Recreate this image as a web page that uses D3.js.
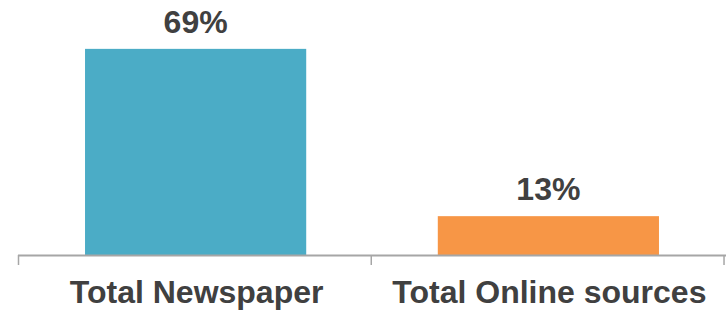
<!DOCTYPE html>
<html>
<head>
<meta charset="utf-8">
<script src="https://cdn.jsdelivr.net/npm/d3@7"></script>
<style>
  body { margin: 0; background: #fff; }
  svg { display: block; font-family: "Liberation Sans", Arial, sans-serif; }
</style>
</head>
<body>
<div id="chart"></div>
<script>
var categories = ["Total Newspaper", "Total Online sources"];
var values = [69, 13];
var colors = ["#4bacc6", "#f79646"];

var width = 726, height = 311;
var baseline = 255;

var svg = d3.select("#chart").append("svg")
    .attr("width", width)
    .attr("height", height);

// bands span the whole axis, bars sit in the middle of each
var x = d3.scaleBand()
    .domain(categories)
    .range([18, 726])
    .paddingInner(0.373)
    .paddingOuter(0.19);

var y = d3.scaleLinear()
    .domain([0, 80])
    .range([baseline, 16]);

svg.selectAll("rect.bar")
    .data(values)
    .enter().append("rect")
    .attr("class", "bar")
    .attr("x", function(d, i) { return x(categories[i]); })
    .attr("y", function(d) { return y(d); })
    .attr("width", x.bandwidth())
    .attr("height", function(d) { return baseline - y(d); })
    .attr("fill", function(d, i) { return colors[i]; });

// value labels
svg.selectAll("text.value")
    .data(values)
    .enter().append("text")
    .attr("class", "value")
    .attr("x", function(d, i) { return x(categories[i]) + x.bandwidth() / 2; })
    .attr("y", function(d) { return y(d) - 16; })
    .attr("text-anchor", "middle")
    .attr("font-size", 32)
    .attr("font-weight", "bold")
    .attr("fill", "#404040")
    .text(function(d) { return d + "%"; });

// axis line + tick marks at band boundaries
var step = x.step();
var edges = d3.range(0, categories.length + 1).map(function(i) { return 18 + i * step; });

svg.append("line")
    .attr("x1", 18).attr("x2", 726)
    .attr("y1", baseline + 0.5).attr("y2", baseline + 0.5)
    .attr("stroke", "#a6a6a6")
    .attr("stroke-width", 2);

svg.selectAll("line.tick")
    .data(edges)
    .enter().append("line")
    .attr("class", "tick")
    .attr("x1", function(d) { return Math.min(d, 725) + 0.5; })
    .attr("x2", function(d) { return Math.min(d, 725) + 0.5; })
    .attr("y1", baseline)
    .attr("y2", baseline + 10)
    .attr("stroke", "#a6a6a6")
    .attr("stroke-width", 1.5);

// category labels
svg.selectAll("text.cat")
    .data(categories)
    .enter().append("text")
    .attr("class", "cat")
    .attr("x", function(d) { return x(d) + x.bandwidth() / 2 + 1; })
    .attr("y", 303)
    .attr("text-anchor", "middle")
    .attr("font-size", 32)
    .attr("font-weight", "bold")
    .attr("fill", "#404040")
    .text(function(d) { return d; });
</script>
</body>
</html>
